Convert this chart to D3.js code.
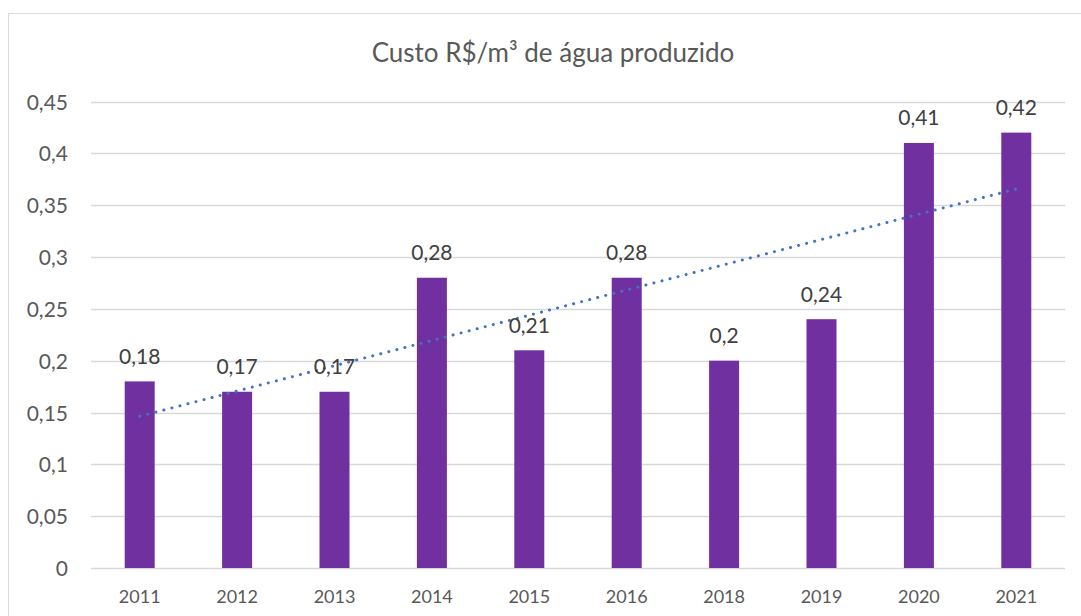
<!DOCTYPE html>
<html>
<head>
<meta charset="utf-8">
<script src="https://cdn.jsdelivr.net/npm/d3@7"></script>
<style>
  html, body { margin: 0; padding: 0; background: #ffffff; }
  svg { display: block; font-family: Lato, "Open Sans", sans-serif; }
</style>
</head>
<body>
<svg id="chart" width="1081" height="616"></svg>
<script>
const title = "Custo R$/m³ de água produzido";
const categories = ["2011", "2012", "2013", "2014", "2015", "2016", "2018", "2019", "2020", "2021"];
const values = [0.18, 0.17, 0.17, 0.28, 0.21, 0.28, 0.20, 0.24, 0.41, 0.42];
const yTicks = [0, 0.05, 0.1, 0.15, 0.2, 0.25, 0.3, 0.35, 0.4, 0.45];

(function () {
const svg = d3.select("#chart");
const pLeft = 91, pRight = 1065, pTop = 101.5, pBottom = 568;

const fmt = v => String(+v.toFixed(2)).replace(".", ",");

// chart border
svg.append("rect")
  .attr("x", 8.5).attr("y", 13.5)
  .attr("width", 1095).attr("height", 620)
  .attr("fill", "#ffffff").attr("stroke", "#D9D9D9").attr("stroke-width", 1);

const x = d3.scaleBand().domain(categories).range([pLeft, pRight])
  .paddingInner(0.692).paddingOuter(0.346);
const y = d3.scaleLinear().domain([0, 0.45]).range([pBottom, pTop]);

// gridlines
svg.append("g").selectAll("line").data(yTicks).join("line")
  .attr("x1", pLeft).attr("x2", pRight)
  .attr("y1", d => Math.round(y(d)) + 0.5).attr("y2", d => Math.round(y(d)) + 0.5)
  .attr("stroke", "#D9D9D9").attr("stroke-width", 1.3);

// y axis labels
const yAxis = d3.axisLeft(y).tickValues(yTicks).tickFormat(fmt).tickSize(0).tickPadding(0);
const gy = svg.append("g").attr("transform", "translate(68,0)").call(yAxis);
gy.select(".domain").remove();
gy.selectAll("text").attr("fill", "#595959").attr("font-size", 21)
  .attr("font-family", "Lato, sans-serif").attr("dy", "0.36em");

// x axis labels
const xAxis = d3.axisBottom(x).tickSize(0).tickPadding(0);
const gx = svg.append("g").attr("transform", "translate(0,603)").call(xAxis);
gx.select(".domain").remove();
gx.selectAll("text").attr("fill", "#595959").attr("font-size", 18)
  .attr("font-family", "Lato, sans-serif").attr("dy", 0);

// bars
svg.append("g").selectAll("rect").data(values).join("rect")
  .attr("x", (d, i) => x(categories[i]))
  .attr("y", d => y(d))
  .attr("width", x.bandwidth())
  .attr("height", d => y(0) - y(d))
  .attr("fill", "#7030A0");

// linear trendline (least squares over category index)
const n = values.length;
const xs = values.map((d, i) => i + 1);
const mx = d3.mean(xs), my = d3.mean(values);
const slope = d3.sum(xs.map((xi, i) => (xi - mx) * (values[i] - my))) / d3.sum(xs.map(xi => (xi - mx) ** 2));
const icpt = my - slope * mx;
const cx = c => x(c) + x.bandwidth() / 2;
svg.append("line")
  .attr("x1", cx(categories[0])).attr("y1", y(icpt + slope * 1))
  .attr("x2", cx(categories[n - 1])).attr("y2", y(icpt + slope * n))
  .attr("stroke", "#4472C4").attr("stroke-width", 3)
  .attr("stroke-linecap", "round").attr("stroke-dasharray", "0.1 8.2");

// data labels
svg.append("g").selectAll("text").data(values).join("text")
  .attr("x", (d, i) => cx(categories[i]))
  .attr("y", d => y(d) - 17.5)
  .attr("text-anchor", "middle")
  .attr("fill", "#404040").attr("font-size", 21)
  .text(d => fmt(d));

// title
svg.append("text")
  .attr("x", 553).attr("y", 62)
  .attr("text-anchor", "middle")
  .attr("fill", "#595959").attr("font-size", 26)
  .text(title);
})();
</script>
</body>
</html>
